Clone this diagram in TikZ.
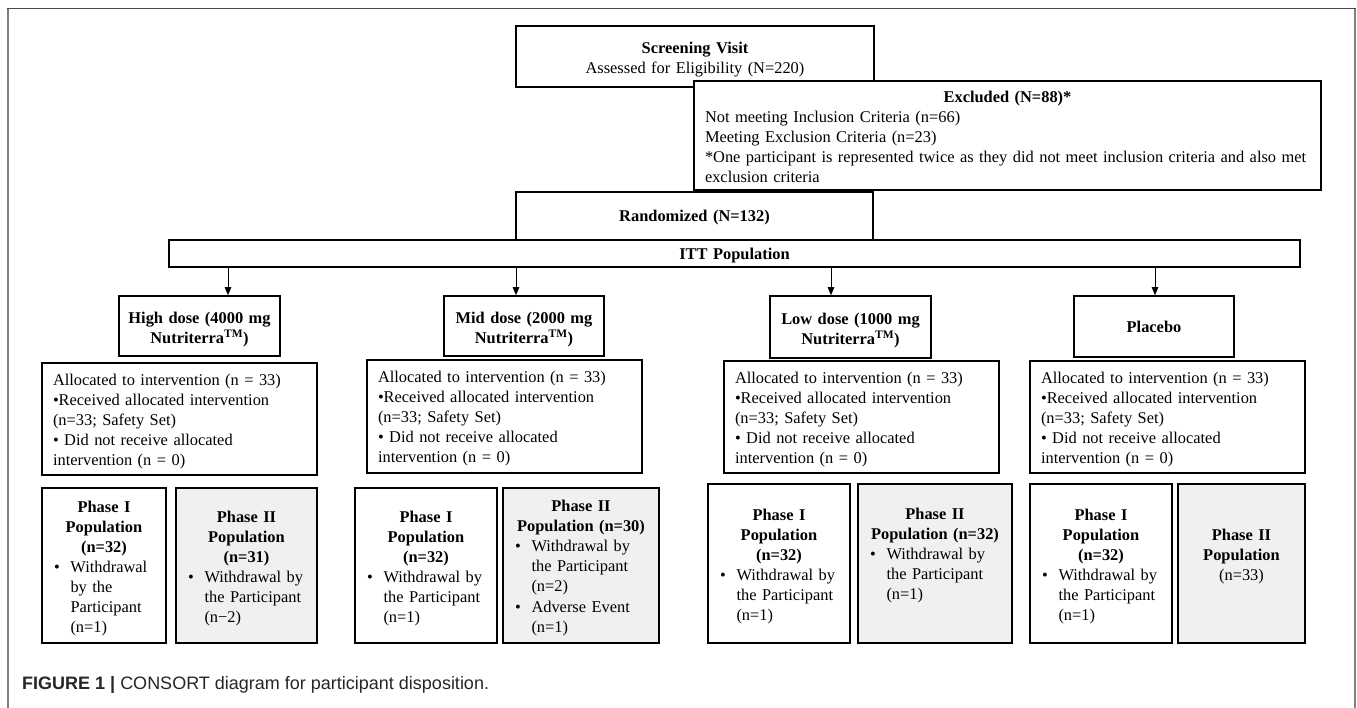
\documentclass[tikz,border=0pt]{standalone}
\usepackage{fontspec}
\setmainfont{Liberation Serif}
\newfontfamily\capfont{Liberation Sans}
\usetikzlibrary{arrows.meta}
\definecolor{phasegray}{HTML}{F0F0F0}
\definecolor{framegray}{HTML}{808080}
\definecolor{frametop}{HTML}{4A4A4A}
\setlength{\lineskip}{0pt}
\tikzset{every node/.style={font=\fontsize{16.4}{20}\selectfont}}
\tikzset{
  box/.style={draw, line width=1.6pt, fill=white, inner sep=0pt},
  textdown/.style={execute at end node={\par\vspace{-#1}}},
  boldbox/.style={box, align=center, font=\fontsize{16.4}{20}\selectfont\bfseries},
  armbox/.style={boldbox, text width=150pt, inner xsep=5pt},
  allocbox/.style={box, text width=253pt, inner xsep=11pt, minimum height=112pt, align=left, textdown=5pt},
  phasebox/.style={box, text width=#1, inner xsep=12pt, align=center, textdown=8pt},
  phasetwo/.style={phasebox=#1, fill=phasegray},
  arr/.style={-{Triangle[width=6.5pt,length=8pt]}, line width=0.9pt}
}
% bullet followed by a block of lines
\newcommand{\bitem}[1]{\makebox[\hsize][l]{\makebox[16.5pt][l]{\textbullet}%
  \begin{tabular}[t]{@{}l@{}}#1\end{tabular}}}
\newcommand{\alloctext}{Allocated to intervention (n = 33)\\
  \textbullet Received allocated intervention\\
  (n=33; Safety Set)\\
  \textbullet{} Did not receive allocated\\
  intervention (n = 0)}

\begin{document}
\begin{tikzpicture}[x=1pt,y=-1pt]
\useasboundingbox (0,0) rectangle (1357,708);
\draw[framegray, line width=2pt] (7.5,708) -- (7.5,8.5) (1354.5,8.5) -- (1354.5,708);
\draw[frametop, line width=1.6pt] (6.5,8.5) -- (1355.5,8.5);

% screening, exclusion, randomisation
\node[box, text width=336pt, inner xsep=11pt, minimum height=61pt, align=center, textdown=6pt] (screen) at (695,56.5)
  {\textbf{Screening Visit}\\Assessed for Eligibility (N=220)};
\node[boldbox, text width=337pt, inner xsep=10pt, minimum height=48pt, textdown=9pt] (rand) at (694.5,216) {Randomized (N=132)};
\node[box, text width=605pt, inner xsep=11pt, minimum height=109pt, align=left, textdown=3pt] (excl) at (1007.5,135.5)
  {\makebox[\hsize][c]{\textbf{Excluded (N=88)*}}\\
   Not meeting Inclusion Criteria (n=66)\\
   Meeting Exclusion Criteria (n=23)\\
   {*}One participant is represented twice as they did not meet inclusion criteria and also met\\
   exclusion criteria};
\node[boldbox, text width=1111pt, inner xsep=10pt, minimum height=27pt, textdown=6pt] (itt) at (734.5,253.5) {ITT Population};

% arms
\node[armbox, minimum width=161pt, minimum height=60pt, textdown=8pt] (high) at (199.5,326)
  {High dose (4000 mg\\Nutriterra\textsuperscript{TM})};
\node[armbox, minimum width=160pt, minimum height=60pt, textdown=8pt] (mid) at (524,326)
  {Mid dose (2000 mg\\Nutriterra\textsuperscript{TM})};
\node[armbox, minimum width=161pt, minimum height=62pt, textdown=8pt] (low) at (850.5,327)
  {Low dose (1000 mg\\Nutriterra\textsuperscript{TM})};
\node[armbox, minimum width=160pt, minimum height=61pt] (plac) at (1154,326.5) {Placebo};

\coordinate (t1) at (228,267);
\coordinate (t2) at (516,267);
\coordinate (t3) at (831,267);
\coordinate (t4) at (1155,267);
\begin{scope}[arr]
\draw (t1) -- (t1 |- high.north);
\draw (t2) -- (t2 |- mid.north);
\draw (t3) -- (t3 |- low.north);
\draw (t4) -- (t4 |- plac.north);
\end{scope}

% allocation
\node[allocbox] (allocA) at (179.5,419) {\alloctext};
\node[allocbox, minimum height=113pt] (allocB) at (504.5,416.5) {\alloctext};
\node[allocbox] (allocC) at (861.5,417) {\alloctext};
\node[allocbox] (allocD) at (1167.5,417) {\alloctext};

% phase populations
\node[phasebox=100pt, minimum height=155pt] (highP1) at (104,565.5)
  {\textbf{Phase I}\\\textbf{Population}\\\textbf{(n=32)}\\\bitem{Withdrawal\\by the\\Participant\\(n=1)}};
\node[phasetwo=117pt, minimum height=155pt] (highP2) at (246.5,565.5)
  {\textbf{Phase II}\\\textbf{Population}\\\textbf{(n=31)}\\\bitem{Withdrawal by\\the Participant\\(n−2)}};
\node[phasebox=118pt, minimum height=155pt] (midP1) at (426,565.5)
  {\textbf{Phase I}\\\textbf{Population}\\\textbf{(n=32)}\\\bitem{Withdrawal by\\the Participant\\(n=1)}};
\node[phasetwo=132pt, minimum height=155pt] (midP2) at (581,565.5)
  {\textbf{Phase II}\\\textbf{Population (n=30)}\\\bitem{Withdrawal by\\the Participant\\(n=2)}\\\bitem{Adverse Event\\(n=1)}};
\node[phasebox=118pt, minimum height=159pt] (lowP1) at (779,563.5)
  {\textbf{Phase I}\\\textbf{Population}\\\textbf{(n=32)}\\\bitem{Withdrawal by\\the Participant\\(n=1)}};
\node[phasetwo=130pt, minimum height=159pt] (lowP2) at (935,563.5)
  {\textbf{Phase II}\\\textbf{Population (n=32)}\\\bitem{Withdrawal by\\the Participant\\(n=1)}\\\strut};
\node[phasebox=118pt, minimum height=159pt] (placP1) at (1101,563.5)
  {\textbf{Phase I}\\\textbf{Population}\\\textbf{(n=32)}\\\bitem{Withdrawal by\\the Participant\\(n=1)}};
\node[phasetwo=103pt, minimum height=159pt] (placP2) at (1241.5,563.5)
  {\textbf{Phase II}\\\textbf{Population}\\(n=33)\\\strut};

\node[anchor=base west, inner sep=0pt, text=black!85, font=\capfont\fontsize{18}{22}\selectfont] (caption) at (22,689)
  {\textbf{FIGURE 1 |} CONSORT diagram for participant disposition.};
\end{tikzpicture}
\end{document}
